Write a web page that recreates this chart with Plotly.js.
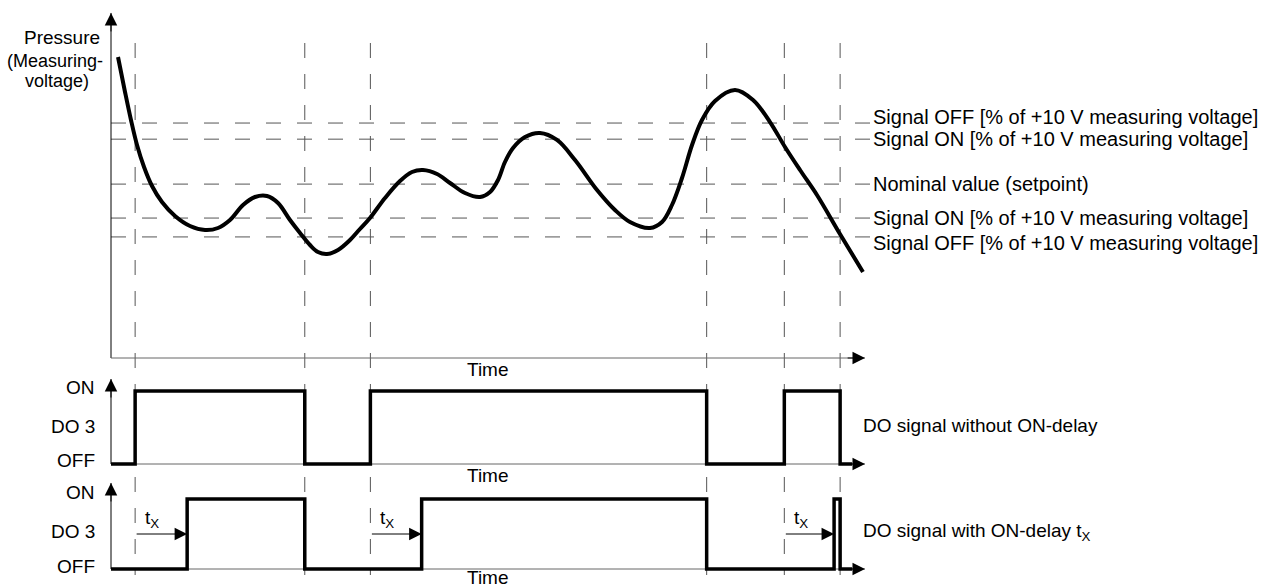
<!DOCTYPE html>
<html><head><meta charset="utf-8">
<script src="https://cdn.plot.ly/plotly-3.0.1.min.js"></script>
<style>html,body{margin:0;padding:0;background:#fff}#chart{width:1267px;height:588px}</style>
</head><body><div id="chart"></div>
<script>
// ---- data (time in arbitrary units 0..100, pressure in % of measuring voltage) ----
const pressureTime  = [0.93, 1.86, 2.65, 3.45, 4.38, 5.44, 6.76, 8.49, 10.48, 12.47,
  14.19, 15.78, 17.51, 19.10, 20.69, 22.15, 23.74, 25.07, 26.39, 27.45,
  28.65, 30.11, 31.70, 33.02, 34.35, 36.34, 38.33, 39.92, 41.38, 43.24,
  44.96, 46.95, 48.94, 50.27, 51.33, 52.25, 53.32, 54.91, 56.90, 59.15,
  61.54, 64.46, 66.84, 68.83, 71.49, 73.08, 74.40, 75.73, 77.06, 78.38,
  80.11, 82.76, 85.15, 87.40, 89.39, 91.38, 93.63, 96.68, 99.73];
const pressureValue = [87.76, 77.55, 69.39, 62.10, 55.69, 50.15, 45.48, 41.40, 38.48, 37.32,
  37.90, 40.23, 44.61, 46.94, 47.23, 45.19, 40.23, 36.44, 32.94, 30.90,
  30.32, 31.49, 34.40, 37.61, 40.82, 46.65, 51.60, 54.23, 54.81, 53.64,
  51.02, 48.10, 46.94, 48.40, 51.90, 57.14, 61.22, 64.43, 65.60, 63.56,
  57.73, 48.98, 43.15, 39.65, 37.90, 39.65, 44.61, 52.48, 62.10, 69.39,
  74.93, 78.13, 75.22, 68.80, 61.52, 54.81, 47.52, 36.15, 25.07];

const thresholdValue = [68.5, 63.8, 50.7, 40.8, 35.3];
const thresholdLabel = [
  "Signal OFF [% of +10 V measuring voltage]",
  "Signal ON [% of +10 V measuring voltage]",
  "Nominal value (setpoint)",
  "Signal ON [% of +10 V measuring voltage]",
  "Signal OFF [% of +10 V measuring voltage]"
];

const switchTime = [3.2, 25.7, 34.4, 79.0, 89.3, 96.7];

const do1Time  = [0, 3.2, 25.7, 34.4, 79.0, 89.3, 96.7, 98.3];
const do1State = [0, 1, 0, 1, 0, 1, 0, 0];
const do2Time  = [0, 10.1, 25.7, 41.2, 79.0, 95.9, 96.7, 98.3];
const do2State = [0, 1, 0, 1, 0, 1, 0, 0];

const delayStart = [3.2, 34.4, 89.3];
const delayEnd   = [10.1, 41.2, 95.9];

const levelLabels = ["ON", "DO 3", "OFF"];
const levelValues = [1, 0.5, 0];
const signalLabels = ["DO signal without ON-delay", "DO signal with ON-delay t<sub>X</sub>"];
const timeLabel = "Time";
const pressureLabel = ["Pressure", "(Measuring-", "voltage)"];

// ---- layout geometry ----
const W = 1267, H = 588;
const L = 100, R = 873, T = 5, B = 583;
const X0PX = 111, XS = 7.54;               // pixel of t=0, pixels per time unit
const xRange = [(L - X0PX) / XS, (R - X0PX) / XS];
const panels = [
  {base: 358, scale: 3.43, lo: -3,    hi: 101.5, tip: 100.6},
  {base: 464, scale: 73,   lo: -0.12, hi: 1.25,  tip: 1.164},
  {base: 569, scale: 70,   lo: -0.12, hi: 1.3,   tip: 1.229}
];
function dom(p) {
  return [(B - (p.base - p.lo * p.scale)) / (B - T), (B - (p.base - p.hi * p.scale)) / (B - T)];
}
const px = v => (v - L) / (R - L);
const py = v => (B - v) / (B - T);
const xEnd = 100.0;

const FONT = "Liberation Sans, Arial, Helvetica, sans-serif";
const DASH = "15px,16px";

const traces = [
  {x: pressureTime, y: pressureValue, xaxis: 'x', yaxis: 'y', mode: 'lines',
   line: {color: '#000', width: 4, shape: 'spline', smoothing: 1}, hoverinfo: 'skip'},
  {x: do1Time, y: do1State, xaxis: 'x', yaxis: 'y2', mode: 'lines',
   line: {color: '#000', width: 3.5, shape: 'hv'}, hoverinfo: 'skip'},
  {x: do2Time, y: do2State, xaxis: 'x', yaxis: 'y3', mode: 'lines',
   line: {color: '#000', width: 3.5, shape: 'hv'}, hoverinfo: 'skip'}
];

const shapes = [];
// vertical dashed event lines across all panels
switchTime.forEach(t => shapes.push({type: 'line', layer: 'below', xref: 'x', yref: 'paper',
  x0: t, x1: t, y0: py(43), y1: py(575), line: {color: '#555', width: 1, dash: DASH}}));
// horizontal threshold lines
thresholdValue.forEach(v => shapes.push({type: 'line', layer: 'below', xref: 'x', yref: 'y',
  x0: 0, x1: (870 - X0PX) / XS, y0: v, y1: v, line: {color: '#555', width: 1, dash: DASH}}));
// axes lines
['y', 'y2', 'y3'].forEach((ya, i) => {
  shapes.push({type: 'line', layer: 'below', xref: 'x', yref: ya, x0: 0, x1: 0, y0: 0, y1: panels[i].tip,
    line: {color: '#000', width: 1}});
  shapes.push({type: 'line', layer: 'below', xref: 'x', yref: ya, x0: 0, x1: xEnd, y0: 0, y1: 0,
    line: {color: '#666', width: 1}});
});

const annotations = [];
function arrow(ya, x, y, ax, ay) {
  annotations.push({xref: 'x', yref: ya, axref: 'x', ayref: ya, x: x, y: y, ax: ax, ay: ay,
    text: '', showarrow: true, arrowhead: 2, arrowsize: 2.5, arrowwidth: 1, arrowcolor: '#000', standoff: 0});
}
['y', 'y2', 'y3'].forEach((ya, i) => {
  const p = panels[i];
  arrow(ya, 0, p.tip, 0, p.tip - 20 / p.scale);
  arrow(ya, xEnd, 0, xEnd - 2.5, 0);
});
delayStart.forEach((s, i) => {
  arrow('y3', delayEnd[i], 0.5, s, 0.5);
  annotations.push({xref: 'x', yref: 'y3', x: s, y: 0.72, xanchor: 'left', yanchor: 'middle', xshift: 8,
    text: 't<sub>X</sub>', showarrow: false, font: {family: FONT, size: 19, color: '#000'}});
});
function txt(o) {
  annotations.push(Object.assign({showarrow: false, font: {family: FONT, size: 19, color: '#000'}}, o));
}
// threshold labels
const thrShift = [6, 0, 0, 0, -6];
thresholdLabel.forEach((t, i) => txt({xref: 'paper', yref: 'y', x: px(871), y: thresholdValue[i],
  xanchor: 'left', yanchor: 'middle', yshift: thrShift[i], text: t,
  font: {family: FONT, size: 20, color: '#000'}}));
// DO level labels
const lvlShift = [[4, 1.5, 3.5], [6.5, 3, 2.5]];
['y2', 'y3'].forEach((ya, k) => {
  levelLabels.forEach((t, i) => txt({xref: 'paper', yref: ya, x: px(97), y: levelValues[i],
    xanchor: 'right', yanchor: 'middle', yshift: lvlShift[k][i], text: t}));
  txt({xref: 'paper', yref: ya, x: px(861), y: 0.53, xanchor: 'left', yanchor: 'middle', text: signalLabels[k]});
});
// Time labels
[369, 475, 577].forEach(v => txt({xref: 'x', yref: 'paper', x: 50, y: py(v), xanchor: 'center', yanchor: 'middle', text: timeLabel}));
// Pressure label
txt({xref: 'paper', yref: 'paper', x: px(62), y: py(38), xanchor: 'center', yanchor: 'middle', text: pressureLabel[0]});
txt({xref: 'paper', yref: 'paper', x: px(55), y: py(61), xanchor: 'center', yanchor: 'middle', text: pressureLabel[1], font: {family: FONT, size: 18, color: '#000'}});
txt({xref: 'paper', yref: 'paper', x: px(57), y: py(81), xanchor: 'center', yanchor: 'middle', text: pressureLabel[2], font: {family: FONT, size: 18, color: '#000'}});

const ax = {visible: false, showgrid: false, zeroline: false, fixedrange: true};
const layout = {
  width: W, height: H,
  margin: {l: L, r: W - R, t: T, b: H - B, pad: 0},
  paper_bgcolor: '#fff', plot_bgcolor: 'rgba(0,0,0,0)',
  showlegend: false, hovermode: false,
  xaxis: Object.assign({}, ax, {range: xRange, domain: [0, 1], anchor: 'y'}),
  yaxis: Object.assign({}, ax, {range: [panels[0].lo, panels[0].hi], domain: dom(panels[0]), anchor: 'x'}),
  yaxis2: Object.assign({}, ax, {range: [panels[1].lo, panels[1].hi], domain: dom(panels[1]), anchor: 'x'}),
  yaxis3: Object.assign({}, ax, {range: [panels[2].lo, panels[2].hi], domain: dom(panels[2]), anchor: 'x'}),
  shapes: shapes,
  annotations: annotations
};
Plotly.newPlot('chart', traces, layout, {displayModeBar: false, staticPlot: true});
</script></body></html>
